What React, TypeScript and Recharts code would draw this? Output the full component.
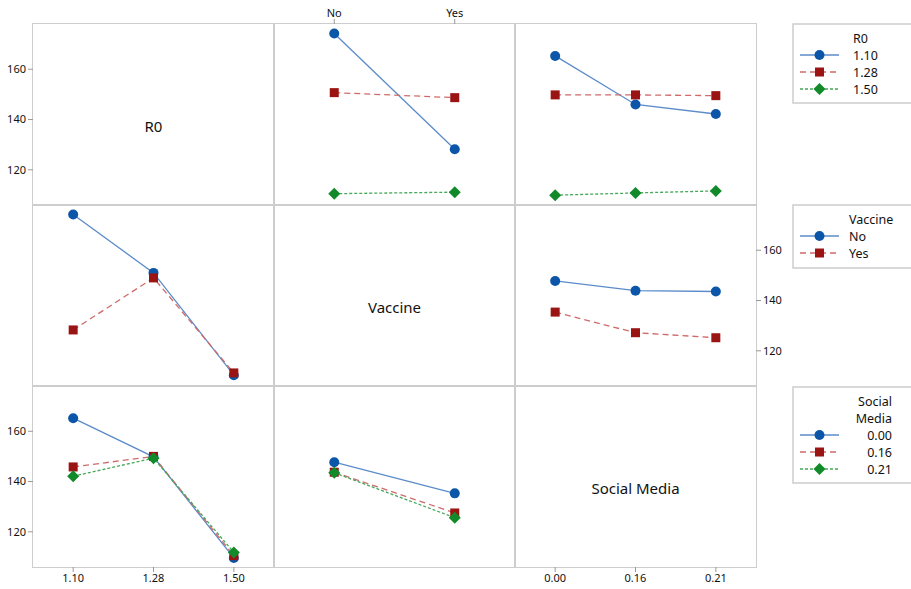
import React from "react";
import { LineChart, Line, XAxis, YAxis } from "recharts";

// factor levels
const r0Levels = ["1.10", "1.28", "1.50"];
const vaccineLevels = ["No", "Yes"];
const socialLevels = ["0.00", "0.16", "0.21"];
const yTicks = [120, 140, 160];

// R0 traces across Vaccine (row 1, col 2)
const r0_110_byVaccine = [174.2, 128.2];
const r0_128_byVaccine = [150.7, 148.7];
const r0_150_byVaccine = [110.5, 111.1];

// R0 traces across Social Media (row 1, col 3)
const r0_110_bySocial = [165.3, 146.0, 142.2];
const r0_128_bySocial = [149.8, 149.8, 149.5];
const r0_150_bySocial = [109.9, 110.8, 111.6];

// Vaccine traces across R0 (row 2, col 1)
const vacNo_byR0 = [174.2, 151.0, 110.3];
const vacYes_byR0 = [128.3, 149.0, 111.2];

// Vaccine traces across Social Media (row 2, col 3)
const vacNo_bySocial = [147.8, 143.9, 143.6];
const vacYes_bySocial = [135.4, 127.2, 125.2];

// Social Media traces across R0 (row 3, col 1)
const sm000_byR0 = [165.2, 149.8, 109.6];
const sm016_byR0 = [145.8, 150.0, 110.5];
const sm021_byR0 = [142.1, 149.3, 111.8];

// Social Media traces across Vaccine (row 3, col 2)
const sm000_byVaccine = [147.7, 135.3];
const sm016_byVaccine = [143.7, 127.5];
const sm021_byVaccine = [143.5, 125.6];

const FONT = "'Noto Sans', 'Open Sans', sans-serif";
const PW = 241;
const PH = 181;
const X0 = 33;
const Y0 = 24;
const GRID = "#cdcdcd";

const STYLES = [
  { stroke: "#5b8cc9", dash: undefined, fill: "#0b56a8", kind: "circle" },
  { stroke: "#cf6a6a", dash: "6 4", fill: "#9b1414", kind: "square" },
  { stroke: "#45a85a", dash: "3 2", fill: "#128a2a", kind: "diamond" },
];

function marker(kind: string, cx: number, cy: number, fill: string, key?: any) {
  if (kind === "circle") return <circle key={key} cx={cx} cy={cy} r={5} fill={fill} />;
  if (kind === "square")
    return <rect key={key} x={cx - 4.5} y={cy - 4.5} width={9} height={9} fill={fill} />;
  return (
    <polygon
      key={key}
      points={`${cx},${cy - 6} ${cx + 6},${cy} ${cx},${cy + 6} ${cx - 6},${cy}`}
      fill={fill}
    />
  );
}

function buildRows(levels: string[], series: number[][]) {
  return levels.map((x, i) => {
    const row: any = { x };
    series.forEach((s, j) => (row["s" + j] = s[i]));
    return row;
  });
}

function Panel({ col, row, levels, series, xAxis = "none", yAxis = "none" }: any) {
  const leftW = yAxis === "left" ? 33 : 0;
  const rightW = yAxis === "right" ? 40 : 0;
  const topH = xAxis === "top" ? 24 : 0;
  const bottomH = xAxis === "bottom" ? 24 : 0;
  const pad = PW / (2 * levels.length);
  const data = buildRows(levels, series);
  return (
    <div style={{ position: "absolute", left: X0 + col * PW - leftW, top: Y0 + row * PH - topH }}>
      <LineChart
        width={PW + leftW + rightW}
        height={PH + topH + bottomH}
        data={data}
        margin={{ top: 0, right: 0, bottom: 0, left: 0 }}
      >
        <XAxis
          dataKey="x"
          type="category"
          hide={xAxis === "none"}
          orientation={xAxis === "top" ? "top" : "bottom"}
          height={24}
          padding={{ left: pad, right: pad }}
          axisLine={false}
          tickLine={{ stroke: "#999" }}
          tickSize={5}
          interval={0}
          tick={{ fontSize: 11, fill: "#111", fontFamily: FONT }}
        />
        <YAxis
          type="number"
          domain={[106, 178]}
          allowDataOverflow
          ticks={yTicks}
          hide={yAxis === "none"}
          orientation={yAxis === "right" ? "right" : "left"}
          width={leftW || rightW || 30}
          axisLine={false}
          tickLine={{ stroke: "#999" }}
          tickSize={5}
          tick={{ fontSize: 11, fill: "#111", fontFamily: FONT }}
        />
        {series.map((_: number[], j: number) => {
          const st = STYLES[j];
          return (
            <Line
              key={j}
              dataKey={"s" + j}
              stroke={st.stroke}
              strokeWidth={1.3}
              strokeDasharray={st.dash}
              dot={(p: any) => marker(st.kind, p.cx, p.cy, st.fill, `d${j}-${p.index}`)}
              activeDot={false}
              isAnimationActive={false}
            />
          );
        })}
      </LineChart>
    </div>
  );
}

function Border({ col, row }: any) {
  return (
    <div
      style={{
        position: "absolute",
        left: X0 + col * PW - 0.75,
        top: Y0 + row * PH - 0.75,
        width: PW + 1.5,
        height: PH + 1.5,
        border: `1.5px solid ${GRID}`,
        boxSizing: "border-box",
      }}
    />
  );
}

function DiagLabel({ idx, text }: any) {
  return (
    <div
      style={{
        position: "absolute",
        left: X0 + idx * PW,
        top: Y0 + idx * PH + 11,
        width: PW,
        height: PH,
        display: "flex",
        alignItems: "center",
        justifyContent: "center",
        fontFamily: FONT,
        fontSize: 15,
        color: "#111",
      }}
    >
      {text}
    </div>
  );
}

function LegendBox({ top, height, titles, labels, anchor, tx }: any) {
  return (
    <g fontFamily={FONT} fontSize={12.5} fill="#111">
      <rect x={793} y={top} width={140} height={height} fill="#fff" stroke={GRID} strokeWidth={1.5} />
      {titles.map((t: string, i: number) => (
        <text key={t} x={tx} y={top + 19 + i * 17} textAnchor={anchor}>
          {t}
        </text>
      ))}
      {labels.map((l: string, i: number) => {
        const cy = top + 14 + (titles.length + i) * 17;
        const st = STYLES[i];
        return (
          <g key={l}>
            <line x1={800} x2={839} y1={cy} y2={cy} stroke={st.stroke} strokeWidth={1.3} strokeDasharray={st.dash} />
            {marker(st.kind, 819.5, cy, st.fill)}
            <text x={tx} y={cy + 4.5} textAnchor={anchor}>
              {l}
            </text>
          </g>
        );
      })}
    </g>
  );
}

export default function App() {
  return (
    <div style={{ position: "relative", width: 911, height: 589, background: "#fff", overflow: "hidden" }}>
      <style>{`body{margin:0;overflow:hidden}`}</style>
      {[0, 1, 2].map((r) => [0, 1, 2].map((c) => <Border key={`${r}-${c}`} row={r} col={c} />))}
      <DiagLabel idx={0} text="R0" />
      <DiagLabel idx={1} text="Vaccine" />
      <DiagLabel idx={2} text="Social Media" />

      <Panel col={1} row={0} levels={vaccineLevels} xAxis="top"
        series={[r0_110_byVaccine, r0_128_byVaccine, r0_150_byVaccine]} />
      <Panel col={2} row={0} levels={socialLevels}
        series={[r0_110_bySocial, r0_128_bySocial, r0_150_bySocial]} />
      <Panel col={0} row={0} levels={r0Levels} yAxis="left" series={[]} />
      <Panel col={0} row={1} levels={r0Levels} series={[vacNo_byR0, vacYes_byR0]} />
      <Panel col={2} row={1} levels={socialLevels} yAxis="right"
        series={[vacNo_bySocial, vacYes_bySocial]} />
      <Panel col={0} row={2} levels={r0Levels} xAxis="bottom" yAxis="left"
        series={[sm000_byR0, sm016_byR0, sm021_byR0]} />
      <Panel col={1} row={2} levels={vaccineLevels}
        series={[sm000_byVaccine, sm016_byVaccine, sm021_byVaccine]} />
      <Panel col={2} row={2} levels={socialLevels} xAxis="bottom" series={[]} />

      <svg width={911} height={589} style={{ position: "absolute", left: 0, top: 0, pointerEvents: "none" }}>
        <LegendBox top={24} height={79} titles={["R0"]} labels={r0Levels} anchor="start" tx={853} />
        <LegendBox top={205} height={63} titles={["Vaccine"]} labels={vaccineLevels} anchor="start" tx={849} />
        <LegendBox top={387} height={96} titles={["Social", "Media"]} labels={socialLevels} anchor="end" tx={892} />
      </svg>
    </div>
  );
}
